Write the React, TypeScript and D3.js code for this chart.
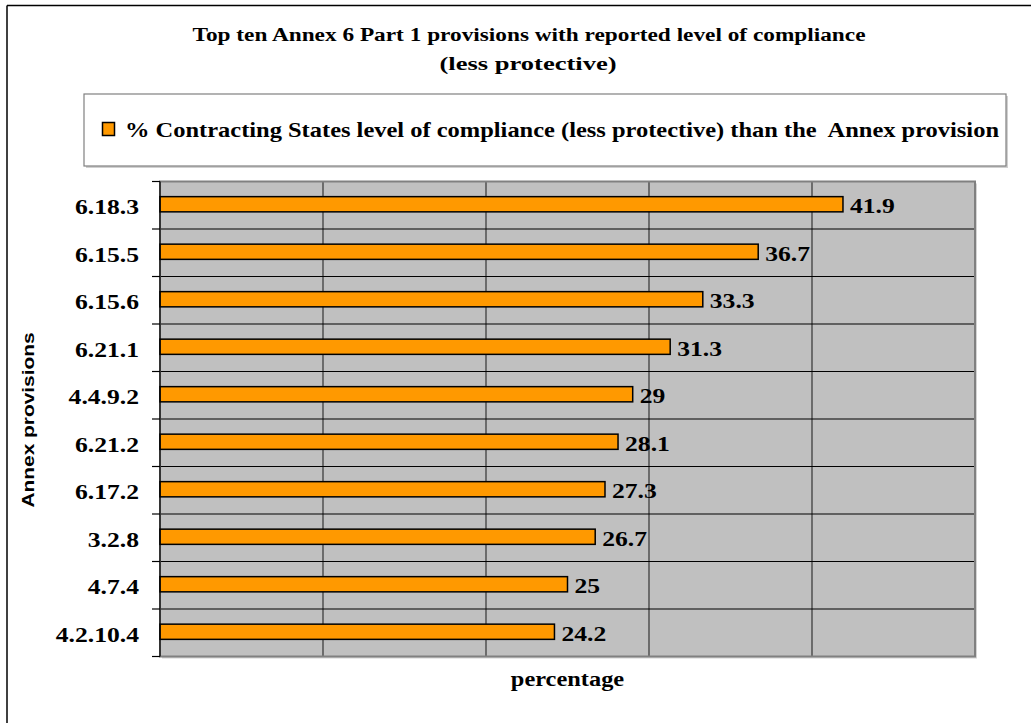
import React from "react";
import * as d3 from "d3";

const categories = ["6.18.3", "6.15.5", "6.15.6", "6.21.1", "4.4.9.2", "6.21.2", "6.17.2", "3.2.8", "4.7.4", "4.2.10.4"];
const values = [41.9, 36.7, 33.3, 31.3, 29, 28.1, 27.3, 26.7, 25, 24.2];
const xTicks = [0, 10, 20, 30, 40, 50];
const titleLines = ["Top ten Annex 6 Part 1 provisions with reported level of compliance", "(less protective)"];
const legendLabel = "% Contracting States level of compliance (less protective) than the  Annex provision";

const W = 1031, H = 723;
const plot = { left: 160, right: 975, top: 181.5, bottom: 656.5 };
const serif = "'Liberation Serif', 'Times New Roman', serif";
const SX = 1.22; // horizontal stretch of the text in the reference

function SText({ x, y, anchor = "start", size, children, family = serif, sx = SX }: any) {
  return (
    <text transform={`translate(${x},${y}) scale(${sx},1)`} textAnchor={anchor}
      fontFamily={family} fontWeight="bold" fontSize={size} style={{ whiteSpace: "pre" }}>{children}</text>
  );
}

export default function App() {
  const x = d3.scaleLinear().domain([0, 50]).range([plot.left, plot.right]);
  const y = d3.scaleBand<string>().domain(categories).range([plot.top, plot.bottom]).paddingInner(0).paddingOuter(0);
  const bw = y.bandwidth();
  const barH = bw * 0.32;

  return (
    <svg width={W} height={H} style={{ position: "absolute", left: 0, top: 0, background: "#fff" }}>
      {/* outer chart border */}
      <line x1={7} y1={5.5} x2={W} y2={5.5} stroke="#000" strokeWidth={1.5} />
      <line x1={7} y1={5.5} x2={7} y2={H} stroke="#000" strokeWidth={1.5} />

      {/* title */}
      <text x={529} y={41} textAnchor="middle" fontFamily={serif} fontWeight="bold" fontSize={18}
        textLength={673} lengthAdjust="spacingAndGlyphs">{titleLines[0]}</text>
      <text x={528} y={70} textAnchor="middle" fontFamily={serif} fontWeight="bold" fontSize={18}
        textLength={177} lengthAdjust="spacingAndGlyphs">{titleLines[1]}</text>

      {/* legend */}
      <rect x={86} y={96} width={922} height={72} fill="#d0d0d0" />
      <rect x={84} y={94} width={922} height={72} fill="#fff" stroke="#808080" strokeWidth={1.2} />
      <rect x={102.5} y={122.5} width={12} height={13} fill="#ff9900" stroke="#000" strokeWidth={1.5} />
      <text x={125} y={137} fontFamily={serif} fontWeight="bold" fontSize={21} style={{ whiteSpace: "pre" }}
        textLength={874} lengthAdjust="spacingAndGlyphs">{legendLabel}</text>

      {/* plot background */}
      <rect x={plot.left + 2} y={plot.top + 2} width={plot.right - plot.left} height={plot.bottom - plot.top} fill="#d4d4d4" />
      <rect x={plot.left} y={plot.top} width={plot.right - plot.left} height={plot.bottom - plot.top} fill="#c0c0c0" />

      {/* vertical gridlines */}
      {xTicks.slice(1, -1).map((t) => (
        <line key={t} x1={x(t)} x2={x(t)} y1={plot.top} y2={plot.bottom} stroke="#333" strokeWidth={1.2} />
      ))}
      {/* horizontal gridlines at band boundaries */}
      {categories.slice(1).map((c) => (
        <line key={c} x1={plot.left} x2={plot.right} y1={y(c)!} y2={y(c)!} stroke="#000" strokeWidth={1.2} />
      ))}
      <rect x={plot.left} y={plot.top} width={plot.right - plot.left} height={plot.bottom - plot.top} fill="none" stroke="#808080" strokeWidth={2} />

      {/* bars */}
      {categories.map((c, i) => {
        const yc = y(c)! + bw / 2 - 1;
        return (
          <g key={c}>
            <rect x={x(0)} y={yc - barH / 2} width={x(values[i]) - x(0)} height={barH}
              fill="#ff9900" stroke="#000" strokeWidth={1.5} />
            <SText x={x(values[i]) + 7} y={yc + 9} size={21}>{String(values[i])}</SText>
          </g>
        );
      })}

      {/* y axis */}
      <line x1={plot.left} x2={plot.left} y1={plot.top} y2={plot.bottom} stroke="#000" strokeWidth={1.2} />
      {categories.map((c) => (
        <line key={c} x1={plot.left - 8} x2={plot.left} y1={y(c)!} y2={y(c)!} stroke="#000" strokeWidth={1.2} />
      ))}
      <line x1={plot.left - 8} x2={plot.left} y1={plot.bottom} y2={plot.bottom} stroke="#000" strokeWidth={1.2} />
      {categories.map((c) => (
        <SText key={c} x={139} y={y(c)! + bw / 2 + 9} anchor="end" size={21}>{c}</SText>
      ))}

      {/* axis titles */}
      <text transform={`translate(34, ${(plot.top + plot.bottom) / 2 + 1}) rotate(-90)`} textAnchor="middle"
        fontFamily="'Liberation Sans', Arial, sans-serif" fontWeight="bold" fontSize={16}
        textLength={175} lengthAdjust="spacingAndGlyphs">Annex provisions</text>
      <SText x={(plot.left + plot.right) / 2} y={686} anchor="middle" size={20}>percentage</SText>
    </svg>
  );
}
